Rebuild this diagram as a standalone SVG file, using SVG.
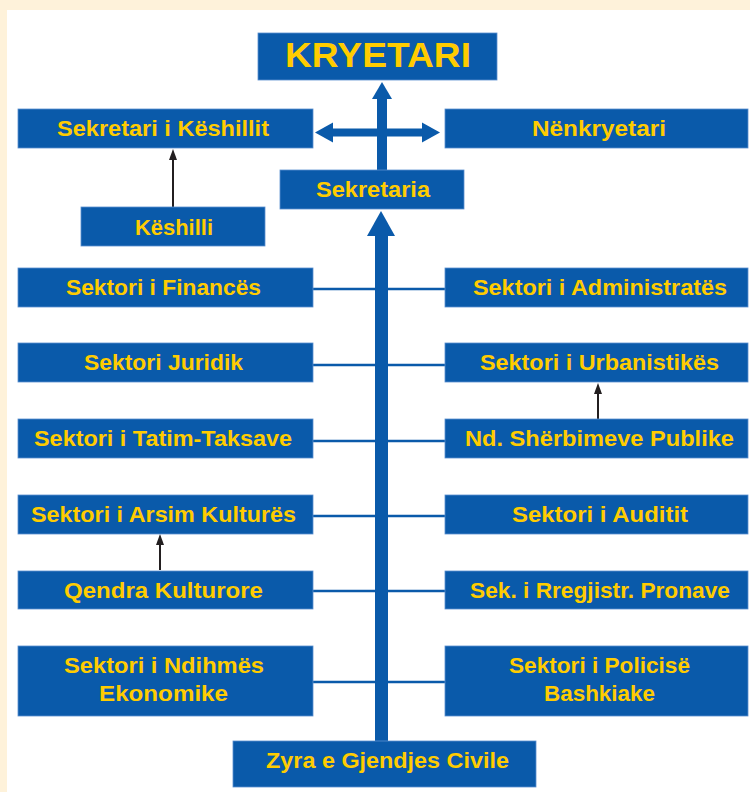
<svg xmlns="http://www.w3.org/2000/svg" width="750" height="792" viewBox="0 0 750 792">
<defs>
<style>
.box{fill:#0A5AAA;stroke:#5a8fcf;stroke-width:0.8}
.t{font-family:"Liberation Sans",Arial,sans-serif;font-weight:bold;font-size:22.5px;fill:#FFCC00;text-anchor:middle}
.big{font-size:35px}
.thin{stroke:#0A5AAA;stroke-width:2.5;fill:none}
.blk{stroke:#231F20;stroke-width:2;fill:none}
.bfill{fill:#0A5AAA}
.kfill{fill:#231F20}
</style>
</defs>
<rect x="0" y="0" width="750" height="792" fill="#FEF2DA"/>
<rect x="7" y="10" width="743" height="782" fill="#FFFFFF"/>

<g id="connectors">
<rect class="bfill" x="375" y="235" width="13" height="507"/>
<polygon class="bfill" points="381,211 367,236 395,236"/>
<rect class="bfill" x="377" y="98" width="10" height="73"/>
<polygon class="bfill" points="382,82 372,99 392,99"/>
<rect class="bfill" x="332" y="128.5" width="91" height="8"/>
<polygon class="bfill" points="315,132.5 333,122.5 333,142.5"/>
<polygon class="bfill" points="440,132.5 422,122.5 422,142.5"/>
<path class="thin" d="M313 289H375M388 289H445M313 365H375M388 365H445M313 441H375M388 441H445M313 516H375M388 516H445M313 591H375M388 591H445M313 682H375M388 682H445"/>
<path class="blk" d="M173 207V158"/>
<polygon class="kfill" points="173,149 169,160 177,160"/>
<path class="blk" d="M598 419V392"/>
<polygon class="kfill" points="598,383 594,394 602,394"/>
<path class="blk" d="M160 570V543"/>
<polygon class="kfill" points="160,534 156,545 164,545"/>
</g>

<g id="kryetari"><rect class="box" x="258" y="33" width="239" height="47"/><text class="t big" x="378" y="67" textLength="186" lengthAdjust="spacingAndGlyphs">KRYETARI</text></g>
<g id="sekretari-keshillit"><rect class="box" x="18" y="109" width="295" height="39"/><text class="t" x="163" y="136" textLength="212" lengthAdjust="spacingAndGlyphs">Sekretari i Këshillit</text></g>
<g id="nenkryetari"><rect class="box" x="445" y="109" width="303" height="39"/><text class="t" x="599" y="136" textLength="134" lengthAdjust="spacingAndGlyphs">Nënkryetari</text></g>
<g id="sekretaria"><rect class="box" x="280" y="170" width="184" height="39"/><text class="t" x="373" y="196.5" textLength="114" lengthAdjust="spacingAndGlyphs">Sekretaria</text></g>
<g id="keshilli"><rect class="box" x="81" y="207" width="184" height="39"/><text class="t" x="174" y="234.5" textLength="78" lengthAdjust="spacingAndGlyphs">Këshilli</text></g>

<g id="sektori-finances"><rect class="box" x="18" y="268" width="295" height="39"/><text class="t" x="163.5" y="295" textLength="195" lengthAdjust="spacingAndGlyphs">Sektori i Financës</text></g>
<g id="sektori-administrates"><rect class="box" x="445" y="268" width="303" height="39"/><text class="t" x="600" y="295" textLength="254" lengthAdjust="spacingAndGlyphs">Sektori i Administratës</text></g>

<g id="sektori-juridik"><rect class="box" x="18" y="343" width="295" height="39"/><text class="t" x="163.5" y="370" textLength="159" lengthAdjust="spacingAndGlyphs">Sektori Juridik</text></g>
<g id="sektori-urbanistikes"><rect class="box" x="445" y="343" width="303" height="39"/><text class="t" x="599.5" y="370" textLength="239" lengthAdjust="spacingAndGlyphs">Sektori i Urbanistikës</text></g>

<g id="sektori-tatim-taksave"><rect class="box" x="18" y="419" width="295" height="39"/><text class="t" x="163" y="446" textLength="258" lengthAdjust="spacingAndGlyphs">Sektori i Tatim-Taksave</text></g>
<g id="nd-sherbimeve-publike"><rect class="box" x="445" y="419" width="303" height="39"/><text class="t" x="599.5" y="446" textLength="269" lengthAdjust="spacingAndGlyphs">Nd. Shërbimeve Publike</text></g>

<g id="sektori-arsim-kultures"><rect class="box" x="18" y="495" width="295" height="39"/><text class="t" x="163.5" y="522" textLength="265" lengthAdjust="spacingAndGlyphs">Sektori i Arsim Kulturës</text></g>
<g id="sektori-auditit"><rect class="box" x="445" y="495" width="303" height="39"/><text class="t" x="600" y="522" textLength="176" lengthAdjust="spacingAndGlyphs">Sektori i Auditit</text></g>

<g id="qendra-kulturore"><rect class="box" x="18" y="571" width="295" height="38"/><text class="t" x="163.5" y="597.5" textLength="199" lengthAdjust="spacingAndGlyphs">Qendra Kulturore</text></g>
<g id="sek-rregjistr-pronave"><rect class="box" x="445" y="571" width="303" height="38"/><text class="t" x="600" y="597.5" textLength="260" lengthAdjust="spacingAndGlyphs">Sek. i Rregjistr. Pronave</text></g>

<g id="sektori-ndihmes-ekonomike"><rect class="box" x="18" y="646" width="295" height="70"/><text class="t" x="164" y="673" textLength="200" lengthAdjust="spacingAndGlyphs">Sektori i Ndihmës</text><text class="t" x="163.5" y="701" textLength="129" lengthAdjust="spacingAndGlyphs">Ekonomike</text></g>
<g id="sektori-policise-bashkiake"><rect class="box" x="445" y="646" width="303" height="70"/><text class="t" x="599.5" y="673" textLength="181" lengthAdjust="spacingAndGlyphs">Sektori i Policisë</text><text class="t" x="599.5" y="701" textLength="111" lengthAdjust="spacingAndGlyphs">Bashkiake</text></g>

<g id="zyra-gjendjes-civile"><rect class="box" x="233" y="741" width="303" height="46"/><text class="t" x="387.5" y="767.5" textLength="243" lengthAdjust="spacingAndGlyphs">Zyra e Gjendjes Civile</text></g>
</svg>
